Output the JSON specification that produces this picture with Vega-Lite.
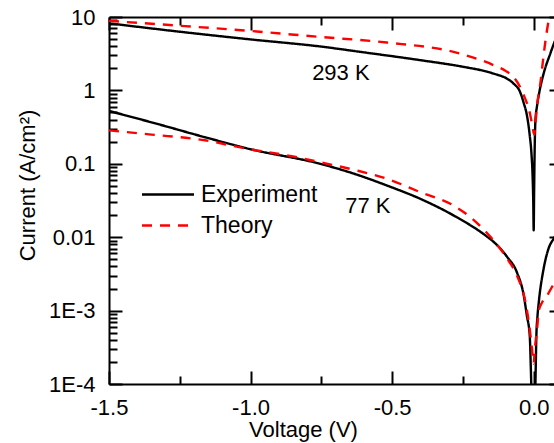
{
  "$schema": "https://vega.github.io/schema/vega-lite/v6.json",
  "width": 453,
  "height": 367,
  "autosize": "none",
  "padding": {"left": 109, "top": 17, "right": 0, "bottom": 59},
  "background": "white",
  "config": {
    "view": {"stroke": null},
    "font": "Liberation Sans",
    "axis": {
      "grid": false,
      "domainColor": "black",
      "domainWidth": 2,
      "tickColor": "black",
      "tickWidth": 2,
      "labelColor": "black",
      "titleColor": "black",
      "labelFont": "Liberation Sans",
      "titleFont": "Liberation Sans",
      "labelFontSize": 22,
      "titleFontSize": 22,
      "titleFontWeight": "normal",
      "labelOverlap": false,
      "labelFlush": false
    }
  },
  "datasets": {
    "curves": [
      {"series": "Experiment", "T": "293", "V": -1.5, "I": 8.2},
      {"series": "Experiment", "T": "293", "V": -1.25, "I": 6.3},
      {"series": "Experiment", "T": "293", "V": -1.0, "I": 4.95},
      {"series": "Experiment", "T": "293", "V": -0.75, "I": 3.95},
      {"series": "Experiment", "T": "293", "V": -0.6, "I": 3.3},
      {"series": "Experiment", "T": "293", "V": -0.4, "I": 2.58},
      {"series": "Experiment", "T": "293", "V": -0.25, "I": 2.1},
      {"series": "Experiment", "T": "293", "V": -0.165, "I": 1.8},
      {"series": "Experiment", "T": "293", "V": -0.141, "I": 1.69},
      {"series": "Experiment", "T": "293", "V": -0.095, "I": 1.45},
      {"series": "Experiment", "T": "293", "V": -0.071, "I": 1.24},
      {"series": "Experiment", "T": "293", "V": -0.048, "I": 0.95},
      {"series": "Experiment", "T": "293", "V": -0.035, "I": 0.67},
      {"series": "Experiment", "T": "293", "V": -0.024, "I": 0.46},
      {"series": "Experiment", "T": "293", "V": -0.014, "I": 0.245},
      {"series": "Experiment", "T": "293", "V": -0.008, "I": 0.14},
      {"series": "Experiment", "T": "293", "V": -0.004, "I": 0.07},
      {"series": "Experiment", "T": "293", "V": -0.0015, "I": 0.03},
      {"series": "Experiment", "T": "293", "V": 0, "I": 0.0124},
      {"series": "Experiment", "T": "293", "V": 0.0015, "I": 0.04},
      {"series": "Experiment", "T": "293", "V": 0.003, "I": 0.12},
      {"series": "Experiment", "T": "293", "V": 0.006, "I": 0.38},
      {"series": "Experiment", "T": "293", "V": 0.012, "I": 0.62},
      {"series": "Experiment", "T": "293", "V": 0.02, "I": 0.95},
      {"series": "Experiment", "T": "293", "V": 0.035, "I": 1.69},
      {"series": "Experiment", "T": "293", "V": 0.059, "I": 3.2},
      {"series": "Experiment", "T": "293", "V": 0.071, "I": 4.3},
      {"series": "Experiment", "T": "293", "V": 0.1, "I": 7.5},
      {"series": "Experiment", "T": "77", "V": -1.5, "I": 0.525},
      {"series": "Experiment", "T": "77", "V": -1.33, "I": 0.35},
      {"series": "Experiment", "T": "77", "V": -1.161, "I": 0.23},
      {"series": "Experiment", "T": "77", "V": -1.0, "I": 0.158},
      {"series": "Experiment", "T": "77", "V": -0.754, "I": 0.1},
      {"series": "Experiment", "T": "77", "V": -0.636, "I": 0.0736},
      {"series": "Experiment", "T": "77", "V": -0.519, "I": 0.0507},
      {"series": "Experiment", "T": "77", "V": -0.401, "I": 0.0334},
      {"series": "Experiment", "T": "77", "V": -0.283, "I": 0.0198},
      {"series": "Experiment", "T": "77", "V": -0.165, "I": 0.0102},
      {"series": "Experiment", "T": "77", "V": -0.141, "I": 0.0086},
      {"series": "Experiment", "T": "77", "V": -0.094, "I": 0.0054},
      {"series": "Experiment", "T": "77", "V": -0.059, "I": 0.0033},
      {"series": "Experiment", "T": "77", "V": -0.035, "I": 0.0016},
      {"series": "Experiment", "T": "77", "V": -0.024, "I": 0.00085},
      {"series": "Experiment", "T": "77", "V": -0.014, "I": 0.00046},
      {"series": "Experiment", "T": "77", "V": -0.01, "I": 0.00016},
      {"series": "Experiment", "T": "77", "V": -0.007, "I": 0.00006},
      {"series": "Experiment", "T": "77", "V": 0, "I": 0.00001},
      {"series": "Experiment", "T": "77", "V": 0.005, "I": 0.00006},
      {"series": "Experiment", "T": "77", "V": 0.007, "I": 0.00015},
      {"series": "Experiment", "T": "77", "V": 0.0095, "I": 0.00046},
      {"series": "Experiment", "T": "77", "V": 0.013, "I": 0.0008},
      {"series": "Experiment", "T": "77", "V": 0.018, "I": 0.0013},
      {"series": "Experiment", "T": "77", "V": 0.035, "I": 0.0037},
      {"series": "Experiment", "T": "77", "V": 0.053, "I": 0.0071},
      {"series": "Experiment", "T": "77", "V": 0.07, "I": 0.0095},
      {"series": "Experiment", "T": "77", "V": 0.1, "I": 0.014},
      {"series": "Theory", "T": "293", "V": -1.5, "I": 8.85},
      {"series": "Theory", "T": "293", "V": -1.25, "I": 7.6},
      {"series": "Theory", "T": "293", "V": -1.0, "I": 6.45},
      {"series": "Theory", "T": "293", "V": -0.754, "I": 5.35},
      {"series": "Theory", "T": "293", "V": -0.519, "I": 4.49},
      {"series": "Theory", "T": "293", "V": -0.283, "I": 3.34},
      {"series": "Theory", "T": "293", "V": -0.141, "I": 2.2},
      {"series": "Theory", "T": "293", "V": -0.1, "I": 1.85},
      {"series": "Theory", "T": "293", "V": -0.071, "I": 1.52},
      {"series": "Theory", "T": "293", "V": -0.05, "I": 1.15},
      {"series": "Theory", "T": "293", "V": -0.035, "I": 0.86},
      {"series": "Theory", "T": "293", "V": -0.012, "I": 0.46},
      {"series": "Theory", "T": "293", "V": -0.004, "I": 0.32},
      {"series": "Theory", "T": "293", "V": 0.002, "I": 0.25},
      {"series": "Theory", "T": "293", "V": 0.006, "I": 0.35},
      {"series": "Theory", "T": "293", "V": 0.012, "I": 0.62},
      {"series": "Theory", "T": "293", "V": 0.024, "I": 1.29},
      {"series": "Theory", "T": "293", "V": 0.035, "I": 3.0},
      {"series": "Theory", "T": "293", "V": 0.047, "I": 6.6},
      {"series": "Theory", "T": "293", "V": 0.055, "I": 10},
      {"series": "Theory", "T": "293", "V": 0.065, "I": 15},
      {"series": "Theory", "T": "77", "V": -1.5, "I": 0.285},
      {"series": "Theory", "T": "77", "V": -1.35, "I": 0.25},
      {"series": "Theory", "T": "77", "V": -1.161, "I": 0.209},
      {"series": "Theory", "T": "77", "V": -1.02, "I": 0.162},
      {"series": "Theory", "T": "77", "V": -0.85, "I": 0.126},
      {"series": "Theory", "T": "77", "V": -0.754, "I": 0.105},
      {"series": "Theory", "T": "77", "V": -0.636, "I": 0.083},
      {"series": "Theory", "T": "77", "V": -0.519, "I": 0.0627},
      {"series": "Theory", "T": "77", "V": -0.401, "I": 0.0411},
      {"series": "Theory", "T": "77", "V": -0.283, "I": 0.027},
      {"series": "Theory", "T": "77", "V": -0.224, "I": 0.0188},
      {"series": "Theory", "T": "77", "V": -0.165, "I": 0.0114},
      {"series": "Theory", "T": "77", "V": -0.141, "I": 0.009},
      {"series": "Theory", "T": "77", "V": -0.094, "I": 0.0051},
      {"series": "Theory", "T": "77", "V": -0.059, "I": 0.003},
      {"series": "Theory", "T": "77", "V": -0.029, "I": 0.0013},
      {"series": "Theory", "T": "77", "V": -0.014, "I": 0.00056},
      {"series": "Theory", "T": "77", "V": -0.006, "I": 0.0003},
      {"series": "Theory", "T": "77", "V": 0, "I": 0.00019},
      {"series": "Theory", "T": "77", "V": 0.004, "I": 0.0003},
      {"series": "Theory", "T": "77", "V": 0.012, "I": 0.00056},
      {"series": "Theory", "T": "77", "V": 0.018, "I": 0.001},
      {"series": "Theory", "T": "77", "V": 0.03, "I": 0.0013},
      {"series": "Theory", "T": "77", "V": 0.047, "I": 0.0016},
      {"series": "Theory", "T": "77", "V": 0.071, "I": 0.0023},
      {"series": "Theory", "T": "77", "V": 0.1, "I": 0.003}
    ],
    "labels": [
      {"V": -0.681, "I": 1.71, "label": "293 K"},
      {"V": -0.586, "I": 0.0262, "label": "77 K"}
    ]
  },
  "layer": [
    {
      "data": {"name": "curves"},
      "mark": {"type": "line", "strokeWidth": 2.4, "clip": true, "interpolate": "monotone"},
      "encoding": {
        "x": {
          "field": "V", "type": "quantitative",
          "scale": {"domain": [-1.5, 0.1], "nice": false, "zero": false},
          "axis": {
            "orient": "bottom",
            "values": [-1.5, -1.25, -1, -0.75, -0.5, -0.25, 0],
            "labelExpr": "datum.value == -1.5 ? '-1.5' : datum.value == -1 ? '-1.0' : datum.value == -0.5 ? '-0.5' : datum.value == 0 ? '0.0' : ''",
            "tickSize": {"condition": {"test": "abs(datum.value*2 - round(datum.value*2)) < 0.001", "value": -13}, "value": -8},
            "labelPadding": 26,
            "title": "Voltage (V)",
            "titleX": 194,
            "titleY": 52,
            "titleBaseline": "alphabetic",
            "titleAlign": "center",
            "titleAnchor": null
          }
        },
        "y": {
          "field": "I", "type": "quantitative",
          "scale": {"type": "log", "domain": [0.0001, 10], "nice": false},
          "axis": {
            "orient": "left",
            "values": [0.0001, 0.0002, 0.0003, 0.0004, 0.0005, 0.0006, 0.0007, 0.0008, 0.0009, 0.001, 0.002, 0.003, 0.004, 0.005, 0.006, 0.007, 0.008, 0.009, 0.01, 0.02, 0.03, 0.04, 0.05, 0.06, 0.07, 0.08, 0.09, 0.1, 0.2, 0.3, 0.4, 0.5, 0.6, 0.7, 0.8, 0.9, 1, 2, 3, 4, 5, 6, 7, 8, 9, 10],
            "labelExpr": "datum.value == 10 ? '10' : datum.value == 1 ? '1' : datum.value == 0.1 ? '0.1' : datum.value == 0.01 ? '0.01' : datum.value == 0.001 ? '1E-3' : datum.value == 0.0001 ? '1E-4' : ''",
            "tickSize": {"condition": {"test": "abs(log(datum.value)/LN10 - round(log(datum.value)/LN10)) < 0.001", "value": -13}, "value": -8},
            "labelPadding": 27,
            "title": "Current (A/cm²)",
            "titleX": -75,
            "titleY": 168,
            "titleAngle": -90,
            "titleBaseline": "alphabetic",
            "titleAlign": "center",
            "titleAnchor": null
          }
        },
        "color": {
          "field": "series", "type": "nominal",
          "scale": {"domain": ["Experiment", "Theory"], "range": ["#000000", "#ff0000"]},
          "legend": {
            "orient": "none",
            "legendX": 47.5,
            "legendY": 166,
            "title": null,
            "padding": 0,
            "symbolType": "M-4,0H4",
            "symbolSize": 169,
            "symbolStrokeWidth": 2.4,
            "labelFontSize": 23,
            "labelFont": "Liberation Sans",
            "labelColor": "black",
            "labelOffset": 21.5,
            "rowPadding": 7
          }
        },
        "strokeDash": {
          "field": "series", "type": "nominal",
          "scale": {"domain": ["Experiment", "Theory"], "range": [[1, 0], [10, 8]]},
          "legend": {
            "orient": "none",
            "legendX": 47.5,
            "legendY": 166,
            "title": null,
            "padding": 0,
            "symbolType": "M-4,0H4",
            "symbolSize": 169,
            "symbolStrokeWidth": 2.4,
            "labelFontSize": 23,
            "labelFont": "Liberation Sans",
            "labelColor": "black",
            "labelOffset": 21.5,
            "rowPadding": 7
          }
        },
        "detail": {"field": "T", "type": "nominal"}
      }
    },
    {
      "data": {"name": "labels"},
      "mark": {"type": "text", "fontSize": 22, "font": "Liberation Sans", "color": "black", "align": "center", "baseline": "middle"},
      "encoding": {
        "x": {
          "field": "V", "type": "quantitative",
          "scale": {"domain": [-1.5, 0.1], "nice": false, "zero": false},
          "axis": {
            "orient": "top",
            "values": [-1.5, -1.25, -1, -0.75, -0.5, -0.25, 0],
            "labels": false,
            "tickSize": {"condition": {"test": "abs(datum.value*2 - round(datum.value*2)) < 0.001", "value": -13}, "value": -8},
            "title": null
          }
        },
        "y": {
          "field": "I", "type": "quantitative",
          "scale": {"type": "log", "domain": [0.0001, 10], "nice": false},
          "axis": {
            "orient": "right",
            "values": [0.0001, 0.0002, 0.0003, 0.0004, 0.0005, 0.0006, 0.0007, 0.0008, 0.0009, 0.001, 0.002, 0.003, 0.004, 0.005, 0.006, 0.007, 0.008, 0.009, 0.01, 0.02, 0.03, 0.04, 0.05, 0.06, 0.07, 0.08, 0.09, 0.1, 0.2, 0.3, 0.4, 0.5, 0.6, 0.7, 0.8, 0.9, 1, 2, 3, 4, 5, 6, 7, 8, 9, 10],
            "labels": false,
            "tickSize": {"condition": {"test": "abs(log(datum.value)/LN10 - round(log(datum.value)/LN10)) < 0.001", "value": -13}, "value": -8},
            "title": null
          }
        },
        "text": {"field": "label", "type": "nominal"}
      }
    }
  ],
  "resolve": {"axis": {"x": "independent", "y": "independent"}}
}
